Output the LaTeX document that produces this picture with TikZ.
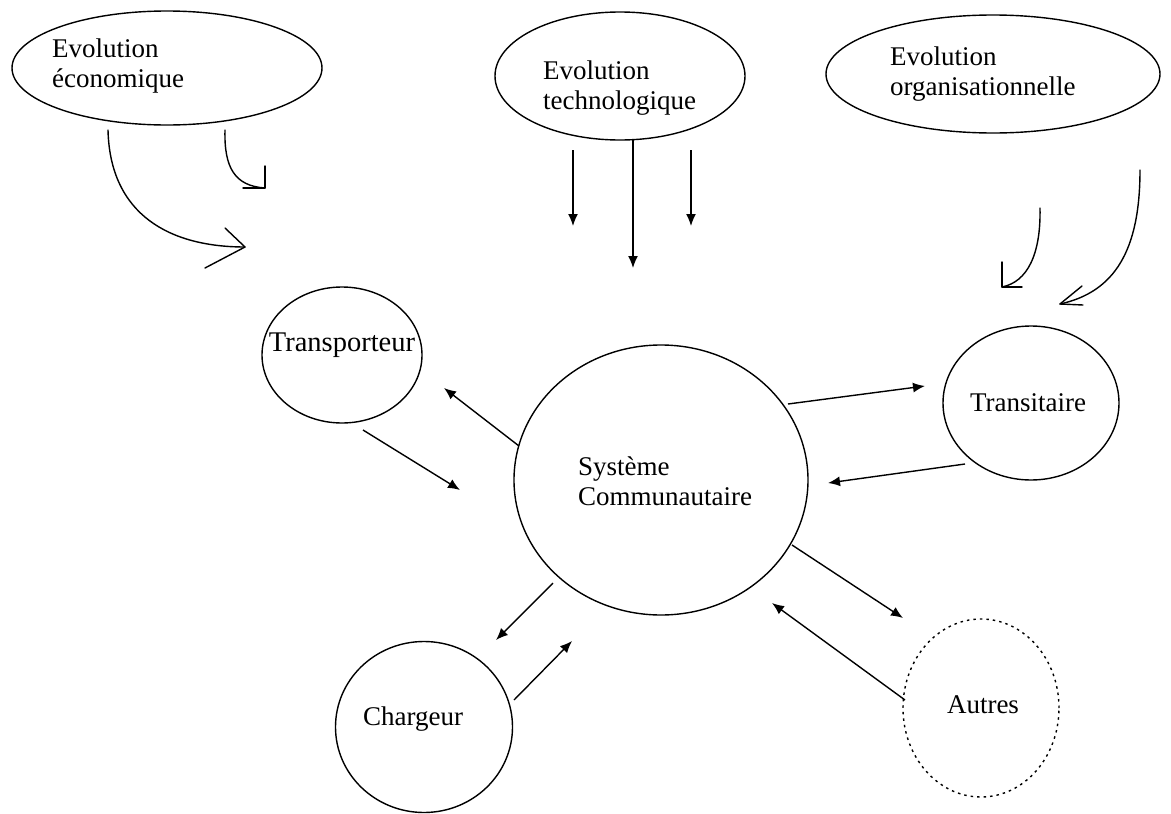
\documentclass[tikz,border=0pt]{standalone}
\usepackage{fontspec}
\setmainfont{Liberation Serif}
\usetikzlibrary{arrows.meta,shapes.geometric}
\begin{document}
\begin{tikzpicture}[x=1pt,y=-1pt,
  oval/.style={draw,ellipse,line width=1.4pt,inner sep=0pt},
  lbl/.style={font=\fontsize{27}{30}\selectfont,align=left,inner sep=0pt},
  arr/.style={line width=1.4pt,-{Latex[length=12pt,width=10pt]}},
  hand/.style={line width=1.4pt,line cap=round,line join=round}
]
\useasboundingbox (0,0) rectangle (1171,814);

% top ellipses
\node[oval,minimum width=310pt,minimum height=114pt] (eco) at (167,68) {};
\node[lbl,anchor=west] (ecot) at (52,66) {Evolution\\économique};
\node[oval,minimum width=250pt,minimum height=128pt] (tech) at (620,76) {};
\node[lbl,anchor=west] (techt) at (543,88) {Evolution\\technologique};
\node[oval,minimum width=334pt,minimum height=118pt] (org) at (993,74) {};
\node[lbl,anchor=west] (orgt) at (890,74) {Evolution\\organisationnelle};

% circles
\node[oval,minimum width=160pt,minimum height=136pt] (transp) at (342,355) {};
\node[lbl,font=\fontsize{28.5}{30}\selectfont] (transpt) at (342,345) {Transporteur};
\node[oval,minimum width=294pt,minimum height=270pt] (sys) at (661,480) {};
\node[lbl] (syst) at (665,481) {Système\\Communautaire};
\node[oval,minimum width=176pt,minimum height=154pt] (transi) at (1031,403) {};
\node[lbl] (transit) at (1028,403) {Transitaire};
\node[oval,minimum width=177pt,minimum height=171pt] (charg) at (424,727) {};
\node[lbl] (chargt) at (413,719) {Chargeur};
\node[oval,dash pattern=on 2.5pt off 4pt,minimum width=156pt,minimum height=178pt] (autres) at (981,708) {};
\node[lbl] (autrest) at (983,705) {Autres};

% economic evolution arrows (hand-drawn style)
\coordinate (e1a) at (108,130); \coordinate (e1tip) at (245,247);
\draw[hand] (e1a) .. controls (110,215) and (170,247) .. (e1tip);
\draw[hand] (225,228) -- (e1tip) -- (205,268);
\coordinate (e2a) at (225,130); \coordinate (e2tip) at (265,188);
\draw[hand] (e2a) .. controls (224,168) and (235,186) .. (e2tip);
\draw[hand] (265,166) -- (e2tip) -- (243,188);

% technological evolution arrows
\coordinate (t1a) at (573,150); \coordinate (t1b) at (573,226);
\coordinate (t2a) at (633,140); \coordinate (t2b) at (633,268);
\coordinate (t3a) at (691,150); \coordinate (t3b) at (691,226);
\draw[arr] (t1a) -- (t1b);
\draw[arr] (t2a) -- (t2b);
\draw[arr] (t3a) -- (t3b);

% organisational evolution arrows
\coordinate (o1a) at (1040,208); \coordinate (o1tip) at (1002,287);
\draw[hand] (o1a) .. controls (1041,255) and (1027,282) .. (o1tip);
\draw[hand] (1002,262) -- (o1tip) -- (1022,287);
\coordinate (o2a) at (1140,170); \coordinate (o2tip) at (1060,304);
\draw[hand] (o2a) .. controls (1140,250) and (1115,292) .. (o2tip);
\draw[hand] (1082,286) -- (o2tip) -- (1083,305);

% exchanges with the community system
\coordinate (a1) at (519,446); \coordinate (a1t) at (444,388);
\draw[arr] (a1) -- (a1t);
\coordinate (a2) at (363,430); \coordinate (a2t) at (460,490);
\draw[arr] (a2) -- (a2t);
\coordinate (b1) at (788,404); \coordinate (b1t) at (925,386);
\draw[arr] (b1) -- (b1t);
\coordinate (b2) at (965,464); \coordinate (b2t) at (828,483);
\draw[arr] (b2) -- (b2t);
\coordinate (c1) at (553,583); \coordinate (c1t) at (496,640);
\draw[arr] (c1) -- (c1t);
\coordinate (c2) at (514,700); \coordinate (c2t) at (572,641);
\draw[arr] (c2) -- (c2t);
\coordinate (d1) at (792,545); \coordinate (d1t) at (903,618);
\draw[arr] (d1) -- (d1t);
\coordinate (d2) at (905,700); \coordinate (d2t) at (772,603);
\draw[arr] (d2) -- (d2t);
\end{tikzpicture}
\end{document}
